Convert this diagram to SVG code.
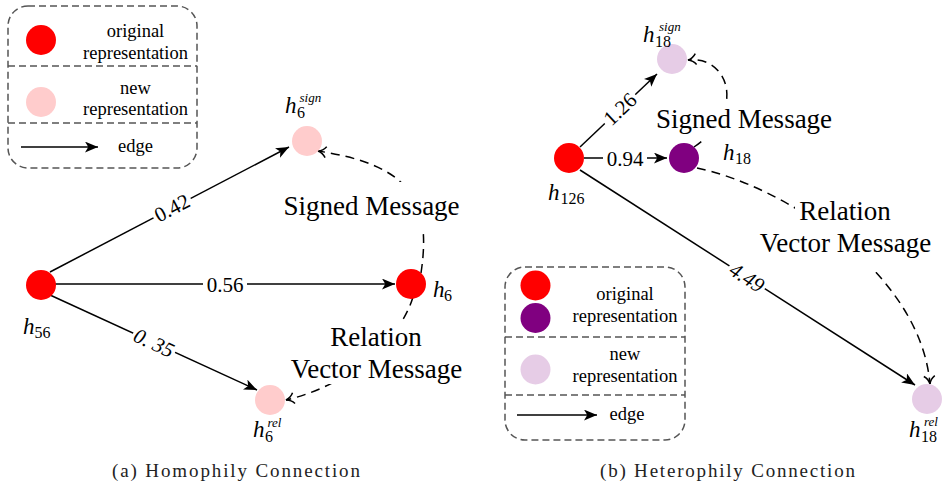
<svg xmlns="http://www.w3.org/2000/svg" width="951" height="489" viewBox="0 0 951 489">
<style>
.bg{fill:#fff}
.leg{fill:none;stroke:#555;stroke-width:1.5;stroke-dasharray:7 4}
.div{stroke:#555;stroke-width:1.5;stroke-dasharray:7 4}
.e{stroke:#000;stroke-width:1.5;fill:none}
.d{stroke:#000;stroke-width:1.5;fill:none;stroke-dasharray:9 6}
text{font-family:'Liberation Serif','Times New Roman','DejaVu Serif',serif}
.lt{font-size:18.5px;fill:#000;text-anchor:middle}
.msg{font-size:27px;fill:#000;text-anchor:middle}
.num{font-size:21px;fill:#000;text-anchor:middle}
.h{font-style:italic;font-size:23px;fill:#000}
.sb{font-size:16px;fill:#000}
.sp{font-style:italic;font-size:13px;fill:#000}
.cap{font-size:19px;fill:#222}
.red{fill:#ff0000}
.pink{fill:#ffcccc}
.pur{fill:#800080}
.lav{fill:#e6cce6}
</style>
<defs>
<marker id="arr" markerUnits="userSpaceOnUse" markerWidth="13" markerHeight="11" refX="12" refY="5" orient="auto" viewBox="0 0 12 10">
<path d="M0,0 L12,5 L0,10 L3,5 Z" fill="#000"/>
</marker>
<marker id="open" markerUnits="userSpaceOnUse" markerWidth="12" markerHeight="14" refX="9" refY="6" orient="auto" viewBox="0 0 12 12">
<path d="M1,0.5 Q4,5 9,6 Q4,7 1,11.5" fill="none" stroke="#000" stroke-width="1.5"/>
</marker>
</defs>

<!-- Left legend -->
<g id="legend-a">
<rect class="leg" x="8" y="6" width="189" height="162" rx="20"/>
<line class="div" x1="8" y1="66" x2="197" y2="66"/>
<line class="div" x1="8" y1="123" x2="197" y2="123"/>
<circle class="red" cx="41" cy="40" r="15"/>
<text class="lt" x="135.5" y="37">original</text>
<text class="lt" x="135.5" y="59">representation</text>
<circle class="pink" cx="41" cy="102" r="15"/>
<text class="lt" x="135.5" y="94">new</text>
<text class="lt" x="135.5" y="115">representation</text>
<line class="e" x1="21" y1="147" x2="98" y2="147" marker-end="url(#arr)"/>
<text class="lt" x="135.5" y="152">edge</text>
</g>

<!-- Connectors -->
<g id="connectors">
<!-- left -->
<line class="e" x1="50" y1="272" x2="289" y2="147" marker-end="url(#arr)"/>
<line class="e" x1="55" y1="284" x2="395" y2="284" marker-end="url(#arr)"/>
<line class="e" x1="50" y1="295" x2="257" y2="390" marker-end="url(#arr)"/>
<g transform="translate(172,208) rotate(-27.6)"><rect class="bg" x="-21" y="-10" width="42" height="20"/><text class="num" x="0" y="7">0.42</text></g>
<rect class="bg" x="203" y="275" width="44" height="19"/><text class="num" x="225" y="291.5">0.56</text>
<g transform="translate(154,343) rotate(24.7)"><rect class="bg" x="-23" y="-10" width="46" height="20"/><text class="num" x="0" y="7" font-style="italic">0. 35</text></g>
<path class="d" d="M421,273 C432,200 410,165 318,151" marker-end="url(#open)"/>
<rect class="bg" x="278" y="182" width="188" height="50"/>
<text class="msg" x="371.5" y="215">Signed Message</text>
<path class="d" d="M413,297 C400,340 350,385 286,400" marker-end="url(#open)"/>
<rect class="bg" x="328" y="322" width="96" height="30"/>
<rect class="bg" x="284" y="352" width="185" height="32"/>
<text class="msg" x="376" y="345.5">Relation</text>
<text class="msg" x="376.5" y="378">Vector Message</text>
<!-- right -->
<line class="e" x1="580" y1="147" x2="657" y2="74" marker-end="url(#arr)"/>
<line class="e" x1="584" y1="158" x2="667" y2="158" marker-end="url(#arr)"/>
<line class="e" x1="580" y1="170" x2="915" y2="385" marker-end="url(#arr)"/>
<g transform="translate(620,109) rotate(-43.2)"><rect class="bg" x="-21" y="-10" width="42" height="20"/><text class="num" x="0" y="7">1.26</text></g>
<rect class="bg" x="603" y="149" width="44" height="19"/><text class="num" x="625" y="165.5">0.94</text>
<g transform="translate(747,277.5) rotate(32.7)"><rect class="bg" x="-21" y="-10" width="42" height="20"/><text class="num" x="0" y="7" font-style="italic">4.49</text></g>
<path class="d" d="M694,147 C748,110 728,55 688,60" marker-end="url(#open)"/>
<rect class="bg" x="646" y="100" width="196" height="40"/>
<text class="msg" x="744" y="128">Signed Message</text>
<path class="d" d="M697,168 C780,185 920,270 930,384" marker-end="url(#open)"/>
<rect class="bg" x="795" y="193" width="100" height="33"/>
<rect class="bg" x="749" y="226" width="193" height="46"/>
<text class="msg" x="845" y="220">Relation</text>
<text class="msg" x="845.5" y="252">Vector Message</text>
</g>

<!-- Left nodes -->
<g id="h56"><circle class="red" cx="41" cy="285" r="15"/><text class="h" x="23" y="334">h</text><text class="sb" x="34.5" y="338">56</text></g>
<g id="h6"><circle class="red" cx="411" cy="284" r="15"/><text class="h" x="433" y="297">h</text><text class="sb" x="444" y="301">6</text></g>
<g id="h6sign"><circle class="pink" cx="307" cy="141" r="15"/><text class="h" x="285" y="113">h</text><text class="sb" x="297" y="118">6</text><text class="sp" x="299.5" y="102">sign</text></g>
<g id="h6rel"><circle class="pink" cx="270" cy="400" r="15"/><text class="h" x="253" y="437">h</text><text class="sb" x="265" y="442">6</text><text class="sp" x="267.5" y="427">rel</text></g>

<!-- Right nodes -->
<g id="h126"><circle class="red" cx="569" cy="158" r="15"/><text class="h" x="548" y="200">h</text><text class="sb" x="560.5" y="204">126</text></g>
<g id="h18"><circle class="pur" cx="684" cy="158" r="15"/><text class="h" x="723" y="160">h</text><text class="sb" x="735" y="164">18</text></g>
<g id="h18sign"><circle class="lav" cx="672" cy="59" r="15"/><text class="h" x="643" y="42">h</text><text class="sb" x="655" y="47">18</text><text class="sp" x="659" y="31">sign</text></g>
<g id="h18rel"><circle class="lav" cx="927" cy="399" r="15"/><text class="h" x="909" y="437">h</text><text class="sb" x="921" y="442">18</text><text class="sp" x="924" y="426">rel</text></g>

<!-- Right legend -->
<g id="legend-b">
<rect class="leg" x="505" y="267" width="180" height="173" rx="20"/>
<line class="div" x1="505" y1="337" x2="685" y2="337"/>
<line class="div" x1="505" y1="395" x2="685" y2="395"/>
<circle class="red" cx="535.5" cy="285.5" r="15"/>
<circle class="pur" cx="535.5" cy="318" r="15"/>
<text class="lt" x="625" y="300">original</text>
<text class="lt" x="625" y="321.5">representation</text>
<circle class="lav" cx="535.5" cy="369.5" r="15"/>
<text class="lt" x="625" y="360">new</text>
<text class="lt" x="625" y="381.5">representation</text>
<line class="e" x1="517" y1="415" x2="597" y2="415" marker-end="url(#arr)"/>
<text class="lt" x="627" y="420">edge</text>
</g>

<g id="captions">
<text class="cap" x="112" y="477" textLength="248" lengthAdjust="spacing">(a) Homophily Connection</text>
<text class="cap" x="600" y="477" textLength="255" lengthAdjust="spacing">(b) Heterophily Connection</text>
</g>
</svg>
